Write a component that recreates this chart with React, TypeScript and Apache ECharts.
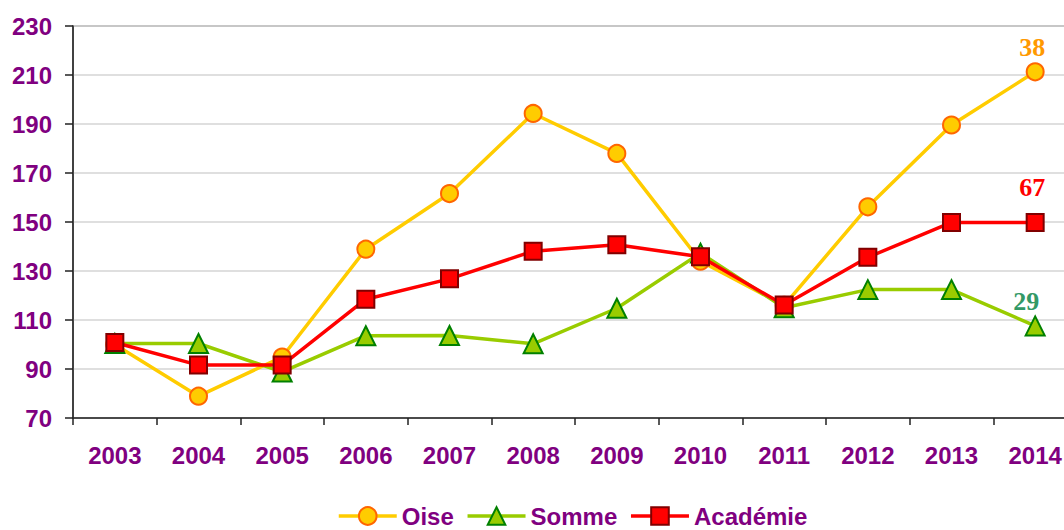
import React, { useEffect, useRef } from "react";
import * as echarts from "echarts";

const years = ["2003", "2004", "2005", "2006", "2007", "2008", "2009", "2010", "2011", "2012", "2013", "2014"];
const oise = [100, 78.9, 94.9, 138.9, 161.6, 194.3, 178, 134, 116, 156.2, 189.6, 211.3];
const somme = [100.4, 100.4, 88.8, 103.6, 103.7, 100.3, 114.8, 137.3, 115, 122.4, 122.4, 107.6];
const academie = [100.8, 91.6, 91.6, 118.5, 126.8, 138.1, 140.7, 135.8, 116.1, 135.6, 149.8, 149.8];
const endLabels = ["38", "29", "67"];

const PURPLE = "#800080";
const FONT = "'Liberation Sans', Arial, sans-serif";

function withEndLabel(values: number[], text: string, color: string, distance: number, dx: number) {
  return values.map((v, i) =>
    i === values.length - 1
      ? {
          value: v,
          label: {
            show: true,
            position: "top",
            distance,
            offset: [dx, 0],
            formatter: text,
            color,
            fontFamily: "'Liberation Serif', 'Times New Roman', serif",
            fontWeight: "bold",
            fontSize: 26,
          },
        }
      : v
  );
}

export default function App() {
  const ref = useRef<HTMLDivElement>(null);
  useEffect(() => {
    if (!ref.current) return;
    const chart = echarts.init(ref.current, undefined, { renderer: "svg" });
    chart.setOption({
      animation: false,
      backgroundColor: "#ffffff",
      grid: {
        left: 73,
        right: 3,
        top: 26,
        bottom: 112,
        show: true,
        borderColor: "#808080",
        borderWidth: 1.5,
        backgroundColor: "transparent",
      },
      legend: {
        left: 337,
        top: 504,
        padding: 0,
        itemWidth: 58,
        itemHeight: 22,
        itemGap: 12,
        lineStyle: { width: 3.5 },
        data: ["Oise", "Somme", "Académie"],
        textStyle: { color: PURPLE, fontWeight: "bold", fontSize: 24, fontFamily: FONT, padding: [0, 0, 0, 0] },
      },
      xAxis: {
        type: "category",
        data: years,
        boundaryGap: true,
        axisLine: { lineStyle: { color: "#222", width: 1.5 } },
        axisTick: { show: true, length: 7, interval: 0, lineStyle: { color: "#222", width: 1.5 } },
        axisLabel: { interval: 0, margin: 25, color: PURPLE, fontWeight: "bold", fontSize: 24, fontFamily: FONT },
        splitLine: { show: false },
      },
      yAxis: {
        type: "value",
        min: 70,
        max: 230,
        interval: 20,
        axisLine: { show: true, lineStyle: { color: "#222", width: 1.5 } },
        axisTick: { show: true, length: 8, lineStyle: { color: "#222", width: 1.5 } },
        axisLabel: { margin: 21, color: PURPLE, fontWeight: "bold", fontSize: 24, fontFamily: FONT },
        splitLine: { show: true, lineStyle: { color: "#d4d4d4", width: 1.5 } },
      },
      series: [
        {
          name: "Oise",
          type: "line",
          data: withEndLabel(oise, endLabels[0], "#FF9900", 2, -3),
          symbol: "circle",
          symbolSize: 17,
          lineStyle: { color: "#FFCC00", width: 3.5 },
          itemStyle: { color: "#FFCC00", borderColor: "#FF6600", borderWidth: 2 },
          z: 2,
        },
        {
          name: "Somme",
          type: "line",
          data: withEndLabel(somme, endLabels[1], "#339966", 1, -9),
          symbol: "triangle",
          symbolSize: 19,
          lineStyle: { color: "#99CC00", width: 3.5 },
          itemStyle: { color: "#99CC00", borderColor: "#008000", borderWidth: 2 },
          z: 3,
        },
        {
          name: "Académie",
          type: "line",
          data: withEndLabel(academie, endLabels[2], "#FF0000", 12, -3),
          symbol: "rect",
          symbolSize: 17,
          lineStyle: { color: "#FF0000", width: 3.5 },
          itemStyle: { color: "#FF0000", borderColor: "#800000", borderWidth: 2 },
          z: 4,
        },
      ],
    });
    return () => chart.dispose();
  }, []);
  return (
    <div style={{ position: "absolute", left: 0, top: 0, width: 1064, height: 530, overflow: "hidden" }}>
      <div ref={ref} style={{ width: 1080, height: 530 }} />
    </div>
  );
}
